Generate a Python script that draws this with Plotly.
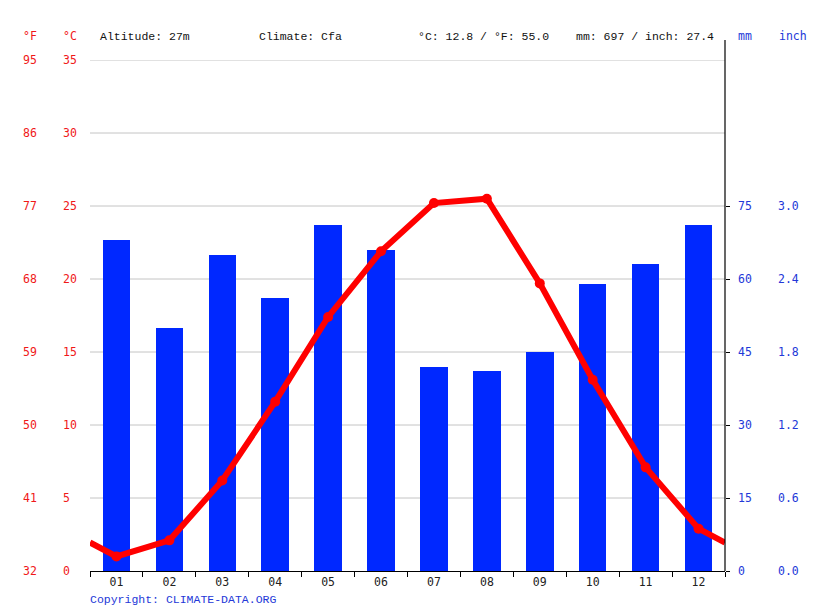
import plotly.graph_objects as go

months = ["01", "02", "03", "04", "05", "06", "07", "08", "09", "10", "11", "12"]
temp_c = [1.0, 2.1, 6.2, 11.6, 17.4, 21.9, 25.2, 25.5, 19.7, 13.1, 7.1, 2.9]
precip_mm = [68, 50, 65, 56, 71, 66, 42, 41, 45, 59, 63, 71]

c_ticks = [0, 5, 10, 15, 20, 25, 30, 35]
f_labels = ["32", "41", "50", "59", "68", "77", "86", "95"]
mm_ticks = [0, 15, 30, 45, 60, 75]
inch_labels = ["0.0", "0.6", "1.2", "1.8", "2.4", "3.0"]

header_left = "Altitude: 27m"
header_climate = "Climate: Cfa"
header_temp = "°C: 12.8 / °F: 55.0"
header_prec = "mm: 697 / inch: 27.4"

W, H = 815, 611
L, R, T, B = 90, 90, 60, 40
pw = W - L - R
ph = H - T - B

RED = "#f01818"
BLUE = "#2238d8"
BAR = "#0028ff"
FONT = "DejaVu Sans Mono"
HFONT = "Liberation Mono"

xs = list(range(1, 13))
edge = (temp_c[-1] + temp_c[0]) / 2
line_x = [0.5] + xs + [12.5]
line_y = [edge] + temp_c + [edge]

fig = go.Figure()
fig.add_trace(go.Bar(x=xs, y=precip_mm, width=0.52, marker=dict(color=BAR, line=dict(width=0)),
                     yaxis="y", showlegend=False))
fig.add_trace(go.Scatter(x=line_x, y=line_y, mode="lines", line=dict(color="#ff0000", width=6),
                         yaxis="y2", showlegend=False, cliponaxis=True))
fig.add_trace(go.Scatter(x=xs, y=temp_c, mode="markers", marker=dict(color="#ff0000", size=10),
                         yaxis="y2", showlegend=False, cliponaxis=False))

def px_x(p):
    return (p - L) / pw

def px_y(p):
    return 1 - (p - T) / ph

ann = []
hy = px_y(36)
for txt, xp, col, fam in [("°F", 21, RED, FONT), ("°C", 61, RED, FONT), (header_left, 98, "#111", HFONT),
                          (header_climate, 257, "#111", HFONT), (header_temp, 416, "#111", HFONT),
                          (header_prec, 574, "#111", HFONT), ("mm", 736, BLUE, FONT), ("inch", 777, BLUE, FONT)]:
    ann.append(dict(text=txt, x=px_x(xp), y=hy, xref="paper", yref="paper", xanchor="left",
                    yanchor="middle", showarrow=False, font=dict(family=fam, size=11.5, color=col)))
for v, f in zip(c_ticks, f_labels):
    ann.append(dict(text=str(v), x=px_x(61), y=v, xref="paper", yref="y2", xanchor="left",
                    yanchor="middle", showarrow=False, font=dict(family=FONT, size=11.5, color=RED)))
    ann.append(dict(text=f, x=px_x(21), y=v, xref="paper", yref="y2", xanchor="left",
                    yanchor="middle", showarrow=False, font=dict(family=FONT, size=11.5, color=RED)))
for v, inch in zip(mm_ticks, inch_labels):
    ann.append(dict(text=str(v), x=px_x(736), y=v, xref="paper", yref="y", xanchor="left",
                    yanchor="middle", showarrow=False, font=dict(family=FONT, size=11.5, color=BLUE)))
    ann.append(dict(text=inch, x=px_x(776), y=v, xref="paper", yref="y", xanchor="left",
                    yanchor="middle", showarrow=False, font=dict(family=FONT, size=11.5, color=BLUE)))
ann.append(dict(text="Copyright: CLIMATE-DATA.ORG", x=px_x(88), y=px_y(599), xref="paper", yref="paper",
                xanchor="left", yanchor="middle", showarrow=False,
                font=dict(family=HFONT, size=11.5, color="#2438d8")))

shapes = [dict(type="line", xref="paper", yref="paper", x0=1, x1=1, y0=0, y1=px_y(40),
               line=dict(color="black", width=1.2))]
for v in c_ticks[1:]:
    shapes.append(dict(type="line", xref="paper", yref="y2", x0=0, x1=1, y0=v, y1=v,
                       line=dict(color="#c4c4c4", width=1), layer="below"))

fig.update_layout(
    width=W, height=H, margin=dict(l=L, r=R, t=T, b=B),
    paper_bgcolor="white", plot_bgcolor="white", bargap=0,
    font=dict(family=FONT, size=11.5, color="#222"),
    xaxis=dict(range=[0.5, 12.5], tickvals=xs, ticktext=months, ticks="", showgrid=False,
               showline=True, linecolor="black", linewidth=1.2, zeroline=False,
               tickfont=dict(family=FONT, size=11.5, color="#222"),
               minor=dict(tickvals=[i + 0.5 for i in range(13)], ticks="outside", ticklen=5,
                          tickcolor="black", showgrid=False)),
    yaxis=dict(range=[0, 105], side="right", tickvals=mm_ticks, showticklabels=False,
               ticks="outside", ticklen=4, tickcolor="black", showgrid=False, zeroline=False,
               showline=False),
    yaxis2=dict(range=[0, 35], overlaying="y", side="left", showticklabels=False, ticks="",
                showgrid=False, zeroline=False, showline=False),
    annotations=ann, shapes=shapes,
)
fig.write_html("out.html")
